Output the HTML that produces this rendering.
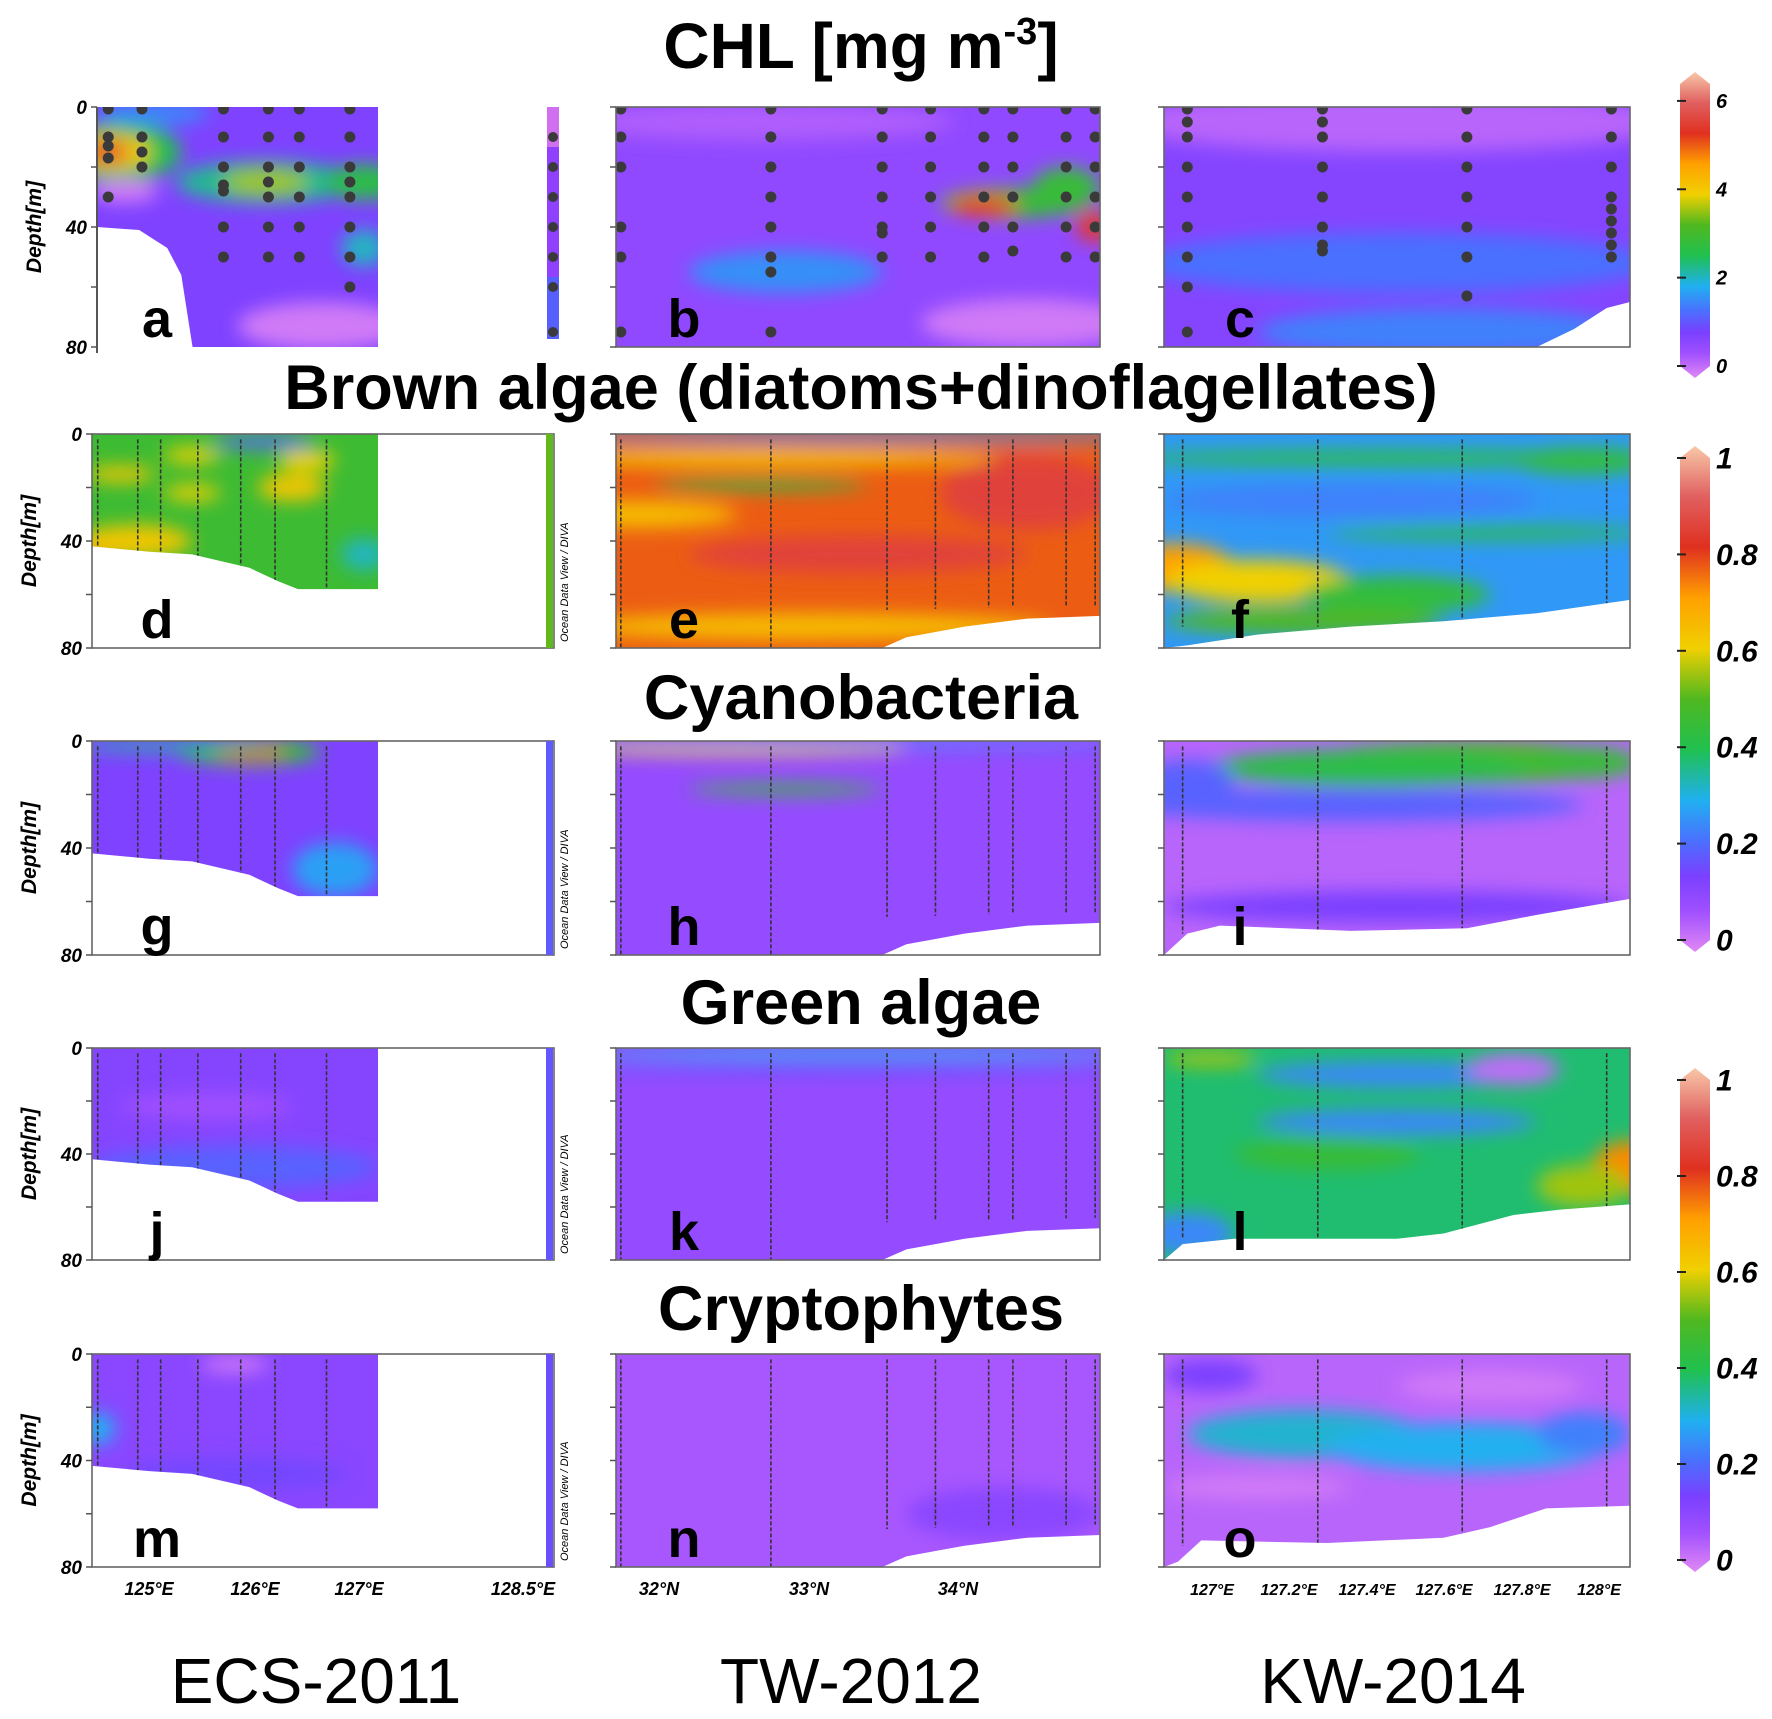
<!DOCTYPE html>
<html><head><meta charset="utf-8"><style>
html,body{margin:0;padding:0;background:#fff}
svg{display:block}
text{font-family:"Liberation Sans",sans-serif}
</style></head>
<body>
<svg id="fig" width="1772" height="1719" viewBox="0 0 1772 1719" xmlns="http://www.w3.org/2000/svg">
<defs>
<filter id="blur" x="-50%" y="-50%" width="200%" height="200%"><feGaussianBlur stdDeviation="9"/></filter>
<linearGradient id="cmap" x1="0" y1="1" x2="0" y2="0">
<stop offset="0" stop-color="#e088f4"/><stop offset="0.08" stop-color="#a050ff"/><stop offset="0.15" stop-color="#7a40ff"/>
<stop offset="0.22" stop-color="#4a70ff"/><stop offset="0.3" stop-color="#20b0f0"/><stop offset="0.4" stop-color="#20c050"/>
<stop offset="0.5" stop-color="#50b820"/><stop offset="0.6" stop-color="#f0d000"/><stop offset="0.7" stop-color="#ffa000"/>
<stop offset="0.8" stop-color="#e03020"/><stop offset="0.9" stop-color="#e06060"/><stop offset="1" stop-color="#f8c8a8"/>
</linearGradient>
</defs>
<text x="861" y="68" font-size="64" font-weight="bold" text-anchor="middle">CHL [mg m<tspan font-size="38" dy="-24">-3</tspan><tspan dy="24">]</tspan></text>
<text x="861" y="409" font-size="63" font-weight="bold" text-anchor="middle">Brown algae (diatoms+dinoflagellates)</text>
<text x="861" y="719" font-size="63" font-weight="bold" text-anchor="middle">Cyanobacteria</text>
<text x="861" y="1024" font-size="63" font-weight="bold" text-anchor="middle">Green algae</text>
<text x="861" y="1330" font-size="63" font-weight="bold" text-anchor="middle">Cryptophytes</text>
<text x="316" y="1703" font-size="64" text-anchor="middle">ECS-2011</text>
<text x="851" y="1703" font-size="64" text-anchor="middle">TW-2012</text>
<text x="1393" y="1703" font-size="64" text-anchor="middle">KW-2014</text>
<g id="panels"></g>
<g id="bars"></g>
</svg>
<script>
// ---- data ----
const panelNames = ['a','b','c','d','e','f','g','h','i','j','k','l','m','n','o'];
// base value (normalised 0-1 of colour scale) per panel
const panelBase = [0.14,0.11,0.13, 0.46,0.76,0.27, 0.14,0.1,0.05, 0.13,0.1,0.38, 0.12,0.07,0.05];
// blobs: [x fraction, depth m, rx fraction, ry m, value]
const panelBlobs = [
 [[0.08,15,0.22,10,0.4],[0.05,15,0.14,6,0.62],[0.03,15,0.08,3.5,0.82],[0.6,25,0.32,7,0.36],[0.6,25,0.15,4,0.55],[0.95,25,0.14,6,0.42],[0.95,47,0.08,6,0.33],[0.1,28,0.12,4,0.02],[0.8,73,0.3,8,0.02],[0.2,2,0.2,4,0.25]],
 [[0.82,32,0.15,5,0.45],[0.76,33,0.07,3.5,0.78],[0.93,27,0.07,7,0.45],[0.99,40,0.04,5,0.82],[0.35,55,0.2,7,0.26],[0.85,72,0.22,8,0.02],[0.3,5,0.4,6,0.06]],
 [[0.5,52,0.55,10,0.22],[0.5,5,0.6,10,0.05],[0.6,75,0.4,8,0.24]],
 [[0.1,15,0.12,3,0.62],[0.35,8,0.1,3,0.6],[0.35,22,0.1,3,0.6],[0.7,20,0.12,5,0.62],[0.75,10,0.1,4,0.6],[0.6,3,0.18,2.5,0.2],[0.02,42,0.15,5,0.72],[0.15,40,0.2,6,0.62],[0.95,45,0.08,6,0.33]],
 [[0.5,1,0.7,2,0.25],[0.3,9,0.5,3,0.62],[0.3,19,0.22,2,0.42],[0.5,45,0.35,7,0.84],[0.85,22,0.18,14,0.84],[0.4,72,0.5,5,0.64],[0.05,30,0.2,5,0.64]],
 [[0.5,9,0.6,3,0.42],[0.9,10,0.15,5,0.44],[0.7,37,0.35,2.5,0.42],[0.03,50,0.12,9,0.7],[0.2,55,0.2,8,0.6],[0.5,60,0.2,7,0.44],[0.3,70,0.3,5,0.5],[0.4,25,0.4,6,0.24]],
 [[0.55,4,0.25,5,0.45],[0.55,4,0.12,2.5,0.78],[0.3,2,0.35,2,0.35],[0.85,48,0.15,10,0.28]],
 [[0.25,3,0.35,2,0.6],[0.35,18,0.2,2,0.45],[0.5,1,0.6,1,0.3]],
 [[0.65,8,0.35,8,0.5],[0.45,10,0.35,7,0.42],[0.9,8,0.12,6,0.45],[0.4,24,0.5,6,0.2],[0.05,15,0.1,8,0.2],[0.5,62,0.5,6,0.15]],
 [[0.5,45,0.5,8,0.2],[0.4,22,0.3,5,0.08]],
 [[0.5,2,0.6,2,0.3],[0.5,8,0.6,2,0.18]],
 [[0.1,4,0.1,3,0.55],[0.5,10,0.3,5,0.25],[0.75,8,0.1,6,0.04],[0.5,28,0.3,5,0.25],[1.0,45,0.08,10,0.72],[0.9,52,0.1,8,0.55],[0.05,70,0.1,8,0.25],[0.35,40,0.2,6,0.45]],
 [[0.5,4,0.12,3,0.02],[0.02,28,0.06,6,0.3],[0.5,45,0.4,6,0.16]],
 [[0.8,60,0.2,10,0.12]],
 [[0.3,30,0.25,9,0.32],[0.65,35,0.3,9,0.3],[0.9,30,0.1,8,0.24],[0.2,50,0.2,5,0.02],[0.7,12,0.2,6,0.02],[0.1,8,0.1,6,0.15]]
];
// bathymetry (white seabed) per panel: [x fraction, depth m]
const bathyA = [[0,40],[0.15,41],[0.25,47],[0.3,56],[0.32,68],[0.34,80]];
const bathyCol1 = [[0,42],[0.2,44],[0.35,45],[0.55,50],[0.65,55],[0.72,58],[1,58]];
const bathyCol2 = [[0.55,80],[0.6,76],[0.66,74],[0.72,72],[0.85,69],[1,68]];
const bathyC = [[0.8,80],[0.88,74],[0.95,67],[1,65]];
const bathyF = [[0,80],[0.05,79],[0.2,75],[0.4,72],[0.6,70],[0.8,67],[1,62]];
const bathyI = [[0,80],[0.05,72],[0.12,69],[0.4,71],[0.65,70],[0.8,65],[1,59]];
const bathyL = [[0,80],[0.04,74],[0.15,72],[0.5,72],[0.6,70],[0.75,63],[0.85,61],[1,59]];
const bathyO = [[0,80],[0.03,78],[0.08,70],[0.35,71],[0.6,69],[0.7,65],[0.82,58],[1,57]];
// station x fractions
const stationsCol1 = [0.02,0.16,0.24,0.37,0.52,0.64,0.82];
const stationsCol2 = [0.01,0.32,0.56,0.66,0.77,0.82,0.93,0.99];
const stationsCol3 = [0.04,0.33,0.64,0.95];
// CHL sample depths at stations
const dotsA = [[0.04,[0,10,13,17,30]],[0.16,[0,10,15,20]],[0.45,[0,10,20,26,28,40,50]],[0.61,[0,10,20,25,30,40,50]],[0.72,[0,10,20,30,40,50]],[0.9,[0,10,20,25,30,40,50,60]]];
const dotsB = [[0.01,[0,10,20,40,50,75]],[0.32,[0,10,20,30,40,50,55,75]],[0.55,[0,10,20,30,40,42,50]],[0.65,[0,10,20,30,40,50]],[0.76,[0,10,20,30,40,50]],[0.82,[0,10,20,30,40,48]],[0.93,[0,10,20,30,40,50]],[0.99,[0,10,20,30,40,50]]];
const dotsC = [[0.05,[0,5,10,20,30,40,50,60,75]],[0.34,[0,5,10,20,30,40,46,48]],[0.65,[0,10,20,30,40,50,63]],[0.96,[0,10,20,30,34,38,42,46,50]]];
const tickCol1 = ['125°E','126°E','127°E','128.5°E'];
const tickCol2 = ['32°N','33°N','34°N'];
const tickCol3 = ['127°E','127.2°E','127.4°E','127.6°E','127.8°E','128°E'];
const chlTicks = ['0','2','4','6'];
const fracTicks = ['0','0.2','0.4','0.6','0.8','1'];

// ---- layout ----
const NS='http://www.w3.org/2000/svg';
const rowsY=[[107,347],[434,648],[741,955],[1048,1260],[1354,1567]];
const cols=[{x0:92,x1:554,d1:378},{x0:616,x1:1100,d1:1100},{x0:1164,x1:1630,d1:1630}];
const stops=[[0,'#e088f4'],[0.08,'#a050ff'],[0.15,'#7a40ff'],[0.22,'#4a70ff'],[0.3,'#20b0f0'],[0.4,'#20c050'],[0.5,'#50b820'],[0.6,'#f0d000'],[0.7,'#ffa000'],[0.8,'#e03020'],[0.9,'#e06060'],[1,'#f8c8a8']];
function hex(c){return [1,3,5].map(i=>parseInt(c.substr(i,2),16));}
function cmap(v){v=Math.max(0,Math.min(1,v));for(let i=1;i<stops.length;i++){if(v<=stops[i][0]){const a=stops[i-1],b=stops[i];const t=(v-a[0])/(b[0]-a[0]);const A=hex(a[1]),B=hex(b[1]);return 'rgb('+A.map((x,k)=>Math.round(x+(B[k]-x)*t)).join(',')+')';}}return stops[stops.length-1][1];}
function el(tag,attrs,parent){const e=document.createElementNS(NS,tag);for(const k in attrs)e.setAttribute(k,attrs[k]);parent.appendChild(e);return e;}
const root=document.getElementById('panels');

panelNames.forEach((name,i)=>{
  const r=Math.floor(i/3),c=i%3;
  const [y0,y1]=rowsY[r];const col=cols[c];
  const dx0=col.x0+(r===0&&c===0?5:0), dx1=col.d1;
  const xs=f=>dx0+f*(dx1-dx0);const ys=d=>y0+d/80*(y1-y0);
  const g=el('g',{},root);
  
  
  const cid='clip'+name;
  const cp=el('clipPath',{id:cid},g);el('rect',{x:dx0,y:y0,width:dx1-dx0,height:y1-y0},cp);
  const hm=el('g',{'clip-path':'url(#'+cid+')'},g);
  const bg=el('rect',{x:dx0,y:y0,width:dx1-dx0,height:y1-y0,fill:cmap(panelBase[i])},hm);
  
  
  const bl=el('g',{filter:'url(#blur)'},hm);
  panelBlobs[i].forEach(b=>{
    const e=el('ellipse',{cx:xs(b[0]),cy:ys(b[1]),rx:b[2]*(dx1-dx0),ry:b[3]/80*(y1-y0),fill:cmap(b[4])},bl);
    
    
  });
  if(r>0){
    const st=c===0?stationsCol1:c===1?stationsCol2:stationsCol3;
    st.forEach(f=>{const l=el('line',{x1:xs(f),x2:xs(f),y1:ys(2),y2:ys(c===0?45+f*15:(c===1?(f>0.5?68-f*4:80):72)),stroke:'#333','stroke-width':1.6,'stroke-dasharray':'4 2'},hm);
      
      });
  }
  let bath=null;
  if(r===0&&c===0)bath=bathyA;else if(c===0)bath=bathyCol1;else if(c===1&&r>0)bath=bathyCol2;
  else if(i===2)bath=bathyC;else if(i===5)bath=bathyF;else if(i===8)bath=bathyI;else if(i===11)bath=bathyL;else if(i===14)bath=bathyO;
  if(bath){let p='M'+xs(bath[0][0])+','+y1+' ';
    bath.forEach(q=>p+='L'+xs(q[0])+','+ys(q[1])+' ');p+='L'+xs(bath[bath.length-1][0])+','+(y1+2)+' L'+dx1+','+(y1+2)+' L'+dx1+','+y1+'Z';
    if(r===0&&c===0){p='M'+dx0+','+(y1+2)+' L'+dx0+','+ys(bath[0][1]);bath.forEach(q=>p+=' L'+xs(q[0])+','+ys(q[1]));p+=' L'+xs(bath[bath.length-1][0])+','+(y1+2)+'Z';}
    const bp=el('path',{d:p,fill:'#fff'},hm);
    
    }
  if(r===0){const dd=c===0?dotsA:c===1?dotsB:dotsC;
    dd.forEach(s=>s[1].forEach(d=>{const ci=el('circle',{cx:xs(s[0]),cy:ys(d)+(d===0?2:0),r:5.5,fill:'#3a3a3a'},hm);
      
      }));}
  if(r===0&&c===0){
    el('line',{x1:dx0,y1:y0,x2:dx0,y2:y1+6,stroke:'#555','stroke-width':2},g);
    const s=el('rect',{x:547,y:y0,width:12,height:y1-y0-8,fill:'#9040ff'},g);
    
    
    el('rect',{x:547,y:y0,width:12,height:40,fill:'#d070f0'},g);
    el('rect',{x:547,y:y1-70,width:12,height:62,fill:'#5560ff'},g);
    [10,20,30,40,50,60,75].forEach(d=>el('circle',{cx:553,cy:ys(d),r:5,fill:'#3a3a3a'},g));
  } else {
    el('rect',{x:(c===0?col.x0:dx0),y:y0,width:(col.x1-(c===0?col.x0:dx0)),height:y1-y0,fill:'none',stroke:'#666','stroke-width':1.6},g);
  }
  if(c===0&&r>0){
    const s=el('rect',{x:col.x1-8,y:y0,width:7,height:y1-y0,fill:cmap(panelBase[i]+0.05)},g);
    
    
    const t=el('text',{x:0,y:0,'font-size':11,'font-style':'italic',transform:'translate('+(col.x1+14)+','+(y1-6)+') rotate(-90)'},g);t.textContent='Ocean Data View / DIVA';
    
    
  }
  [0,20,40,60,80].forEach(d=>el('line',{x1:dx0-6,x2:dx0,y1:ys(d),y2:ys(d),stroke:'#555','stroke-width':1.5},g));
  if(c===0){
    [0,40,80].forEach(d=>{const t=el('text',{x:dx0-10,y:ys(d)+7,'font-size':19,'font-weight':'bold','font-style':'italic','text-anchor':'end'},g);t.textContent=d;
      
      });
    const t=el('text',{x:0,y:0,'font-size':21,'font-weight':'bold','font-style':'italic','text-anchor':'middle',transform:'translate('+(dx0-56)+','+((y0+y1)/2)+') rotate(-90)'},g);t.textContent='Depth[m]';
    
    
  }
  const lx=[157,684,1240][c];
  const lt=el('text',{x:lx,y:y1-10,'font-size':54,'font-weight':'bold','text-anchor':'middle'},g);lt.textContent=name;
  
  
});
const tickX=[[149,255,359,523],[659,809,958],[1212,1289,1367,1444,1522,1599]];
[tickCol1,tickCol2,tickCol3].forEach((arr,c)=>arr.forEach((lab,k)=>{
  const t=el('text',{x:tickX[c][k],y:1595,'font-size':c===2?16:18,'font-weight':'bold','font-style':'italic','text-anchor':'middle'},root);t.textContent=lab;
  
  
}));
const bars=document.getElementById('bars');
function cbar(x,yTop,yBot,labels,fs,nm){
  const g=el('g',{},bars);
  
  
  el('path',{d:'M'+x+','+(yTop+6)+' L'+(x+15)+','+(yTop-6)+' L'+(x+30)+','+(yTop+6)+' L'+(x+30)+','+(yBot-6)+' L'+(x+15)+','+(yBot+6)+' L'+x+','+(yBot-6)+'Z',fill:'url(#cmap)'},g);
  labels.forEach((lab,k)=>{const y=yBot-6-(k/(labels.length-1))*(yBot-yTop-12)*(nm==='chl-colorbar'?0.94:1);
    el('line',{x1:x-3,x2:x+6,y1:y,y2:y,stroke:'#222','stroke-width':2},g);
    const t=el('text',{x:x+36,y:y+fs*0.35,'font-size':fs,'font-weight':'bold','font-style':'italic'},g);t.textContent=lab;
    
    });
}
cbar(1680,78,372,chlTicks,20,'chl-colorbar');
cbar(1680,452,946,fracTicks,30,'group-colorbar-1');
cbar(1680,1074,1566,fracTicks,30,'group-colorbar-2');
</script>
</body></html>
